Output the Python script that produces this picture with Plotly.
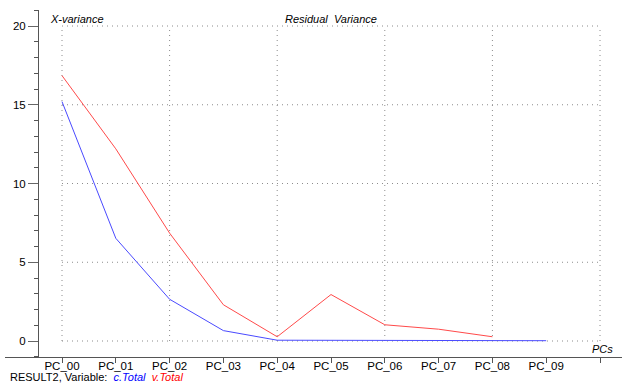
import plotly.graph_objects as go

# Residual X-variance per principal component
pcs = ["PC_00", "PC_01", "PC_02", "PC_03", "PC_04", "PC_05", "PC_06", "PC_07", "PC_08", "PC_09"]
c_total = [15.2, 6.52, 2.65, 0.66, 0.05, 0.04, 0.02, 0.02, 0.02, 0.02]
v_total = [16.85, 12.2, 6.85, 2.3, 0.27, 2.95, 1.03, 0.75, 0.27]

W, H = 622, 383
L, R, T, B = 5, 0, 10, 26
x_per_unit = 53.8          # pixels between neighbouring PCs
x0_px = 62                 # pixel of PC_00
y_per_unit = 15.75
y0_px = 341                # pixel of value 0

plot_w = W - L - R
plot_h = H - T - B
x_lo = (L - x0_px) / x_per_unit
x_hi = (W - R - x0_px) / x_per_unit
y_hi = (y0_px - T) / y_per_unit
y_lo = (y0_px - (H - B)) / y_per_unit


def px_x(p):
    return (p - L) / plot_w


def px_y(p):
    return (H - B - p) / plot_h


FONT = "Liberation Sans, Arial, sans-serif"
idx = list(range(len(pcs)))
GRID = dict(color="#8c8c8c", width=1, dash="1px,4px")

fig = go.Figure()

# dotted grid limited to the data frame
grid_x = list(range(0, len(pcs) + 1, 2))
grid_y = [0, 5, 10, 15, 20]
for gx in grid_x:
    fig.add_shape(type="line", x0=gx, x1=gx, y0=0, y1=20, xref="x", yref="y",
                  line=GRID, layer="below")
for gy in grid_y:
    fig.add_shape(type="line", x0=0, x1=len(pcs), y0=gy, y1=gy, xref="x", yref="y",
                  line=GRID, layer="below")

fig.add_trace(go.Scatter(x=idx[:len(c_total)], y=c_total, mode="lines",
                         line=dict(color="#4a4aff", width=1), name="c.Total"))
fig.add_trace(go.Scatter(x=idx[:len(v_total)], y=v_total, mode="lines",
                         line=dict(color="#ff4a4a", width=1), name="v.Total"))

tickvals = list(range(len(pcs) + 1))
ticktext = pcs + [""]

fig.update_layout(
    width=W, height=H,
    margin=dict(l=L, r=R, t=T, b=B, pad=0),
    paper_bgcolor="white", plot_bgcolor="white",
    showlegend=False,
    font=dict(family=FONT, size=11, color="black"),
    xaxis=dict(range=[x_lo, x_hi], showgrid=False, zeroline=False,
               showline=True, linecolor="#555555", linewidth=1,
               tickmode="array", tickvals=tickvals, ticktext=ticktext,
               ticks="outside", ticklen=5, tickcolor="#555555",
               ticklabelstandoff=-7,
               tickfont=dict(size=11.5, family=FONT, color="black")),
    yaxis=dict(range=[y_lo, y_hi], showgrid=False, zeroline=False,
               anchor="free", position=px_x(38),
               showline=True, linecolor="#555555", linewidth=1,
               tickmode="array", tickvals=grid_y,
               ticks="outside", ticklen=10, tickcolor="#666666",
               minor=dict(tickmode="linear", tick0=0, dtick=1, ticks="outside",
                          ticklen=4, tickcolor="#555555"),
               tickfont=dict(size=11.5, family=FONT, color="black")),
)

ann_font = dict(family=FONT, size=11, color="black")
fig.add_annotation(text="<i>X-variance</i>", x=px_x(48), y=px_y(19), xref="paper", yref="paper",
                   xanchor="left", yanchor="middle", showarrow=False, font=ann_font)
fig.add_annotation(text="<i>Residual  Variance</i>", x=px_x(331), y=px_y(19), xref="paper",
                   yref="paper", xanchor="center", yanchor="middle", showarrow=False, font=ann_font)
fig.add_annotation(text="<i>PCs</i>", x=px_x(615), y=px_y(349), xref="paper", yref="paper",
                   xanchor="right", yanchor="middle", showarrow=False, font=ann_font)
fig.add_annotation(
    text="RESULT2, Variable:  <span style='color:#0000ff'><i>c.Total</i></span>  "
         "<span style='color:#ff0000'><i>v.Total</i></span>",
    x=px_x(8), y=px_y(377), xref="paper", yref="paper",
    xanchor="left", yanchor="middle", showarrow=False, font=ann_font)

fig.write_html("out.html")
